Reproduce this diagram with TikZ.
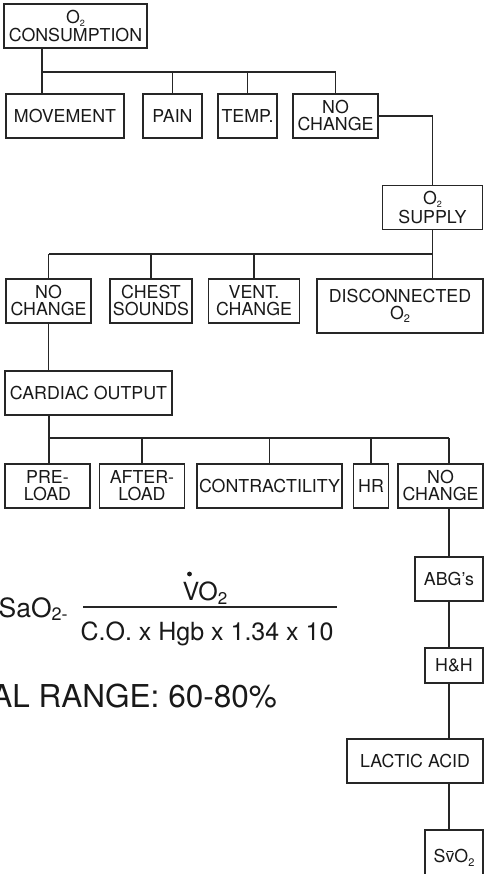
\documentclass[tikz,border=0pt]{standalone}
\usepackage{fontspec}
\setmainfont{TeX Gyre Heros}
\newcommand{\otwo}{O\raisebox{-0.16em}{\fontsize{9}{9}\selectfont 2}}
\newcommand{\otwosub}{O\raisebox{-0.2em}{\fontsize{11}{11}\selectfont 2}}
\newcommand{\vbar}{\makebox[0pt][l]{\hspace{0.07em}\rule[0.62em]{0.36em}{0.06em}}v}
\begin{document}
\begin{tikzpicture}[x=1pt, y=-1pt,
                    box/.style={draw=black!85, line width=1.2pt, inner sep=0pt, align=center,
                                minimum height=44, text=black!90,
                                font=\fontsize{17.8}{17}\selectfont},
                    link/.style={draw=black!85, line width=1.2pt},
                    formula/.style={inner sep=0pt, text=black!90}
                    ]
                    \clip (0,0) rectangle (484,874);

                    % first level
                    \node[box, minimum width=143] (cons) at (75.5,26) {\otwo\\[1.5pt]CONSUMPTION};
                    \node[box, minimum width=118] (move) at (65,116) {MOVEMENT};
                    \node[box, minimum width=59] (pain) at (172.5,116) {PAIN};
                    \node[box, minimum width=59] (temp) at (247.5,116) {TEMP.};
                    \node[box, minimum width=85] (nochA) at (335.5,116) {NO\\CHANGE};
                    \node[box, minimum width=100, minimum height=44] (supply) at (432.5,207.5) {\otwo\\[1.5pt]SUPPLY};

                    % second level
                    \node[box, minimum width=85] (nochB) at (48.5,301) {NO\\CHANGE};
                    \node[box, minimum width=82] (chest) at (151,301) {CHEST\\SOUNDS};
                    \node[box, minimum width=91] (vent) at (254,301) {VENT.\\CHANGE};
                    \node[box, minimum width=166, minimum height=54] (disc) at (400,306) {DISCONNECTED\\\otwosub};
                    \node[box, minimum width=167] (cardiac) at (88.5,393) {CARDIAC OUTPUT};

                    % third level
                    \node[box, minimum width=85] (pre) at (47.5,486) {PRE-\\LOAD};
                    \node[box, minimum width=85] (after) at (142,486) {AFTER-\\LOAD};
                    \node[box, minimum width=145] (contr) at (269.5,486) {CONTRACTILITY};
                    \node[box, minimum width=35] (hr) at (371,486) {HR};
                    \node[box, minimum width=85] (nochC) at (440.5,486) {NO\\CHANGE};
                    \node[box, minimum width=68] (abg) at (449,579) {ABG's};
                    \node[box, minimum width=58, minimum height=35] (hh) at (454,665.5) {H\&H};
                    \node[box, minimum width=136] (lactic) at (415,761) {LACTIC ACID};
                    \node[box, minimum width=58, minimum height=56] (svo) at (454,858) {S\vbar\otwosub};

                    % formula
                    \node[formula, anchor=base west, font=\fontsize{26.5}{26.5}\selectfont]
                        (sao) at (-1.5,617) {SaO\raisebox{-0.12em}{\fontsize{18}{18}\selectfont 2-}};
                    \node[formula, anchor=base, font=\fontsize{25}{25}\selectfont]
                        (num) at (205,600) {VO\raisebox{-0.18em}{\fontsize{17}{17}\selectfont 2}};
                    \fill[black!90] (189.5,574) circle (2.4);
                    \coordinate (barL) at (83,607);
                    \coordinate (barR) at (337,607);
                    \draw[link] (barL) -- (barR);
                    \node[formula, anchor=base, font=\fontsize{25}{25}\selectfont]
                        (den) at (207,640) {C.O. x Hgb x 1.34 x 10};
                    \node[formula, anchor=base east, font=\fontsize{31.5}{31.5}\selectfont]
                        (range) at (277,707) {AL RANGE: 60-80\%};

                    % connectors
                    \coordinate (jA) at (42,72);
                    \coordinate (jB) at (49,254);
                    \coordinate (jC) at (49,438);
                    \draw[link] (cons.south -| jA) -- (move.north -| jA);
                    \draw[link] (jA) -- (jA -| nochA.north);
                    \foreach \n in {pain,temp,nochA}{
                        \draw[link] (\n.north) -- (\n.north |- jA);
                    }
                    \draw[link] (nochA.east) -| (supply.north);
                    \draw[link] (supply.south) -- (disc.north -| supply.south);
                    \draw[link] (jB) -- (jB -| supply.south);
                    \foreach \n in {nochB,chest,vent}{
                        \draw[link] (\n.north) -- (\n.north |- jB);
                    }
                    \draw[link] (nochB.south) -- (cardiac.north -| nochB.south);
                    \draw[link] (cardiac.south -| jC) -- (pre.north -| jC);
                    \draw[link] (jC) -- (jC -| abg.north);
                    \foreach \n in {after,contr,hr}{
                        \draw[link] (\n.north) -- (\n.north |- jC);
                    }
                    \draw[link] (nochC.north -| abg.north) -- (jC -| abg.north);
                    \draw[link] (nochC.south -| abg.north) -- (abg.north);
                    \draw[link] (abg.south) -- (hh.north -| abg.south);
                    \draw[link] (hh.south -| abg.south) -- (lactic.north -| abg.south);
                    \draw[link] (lactic.south -| abg.south) -- (svo.north -| abg.south);
                \end{tikzpicture}
\end{document}
